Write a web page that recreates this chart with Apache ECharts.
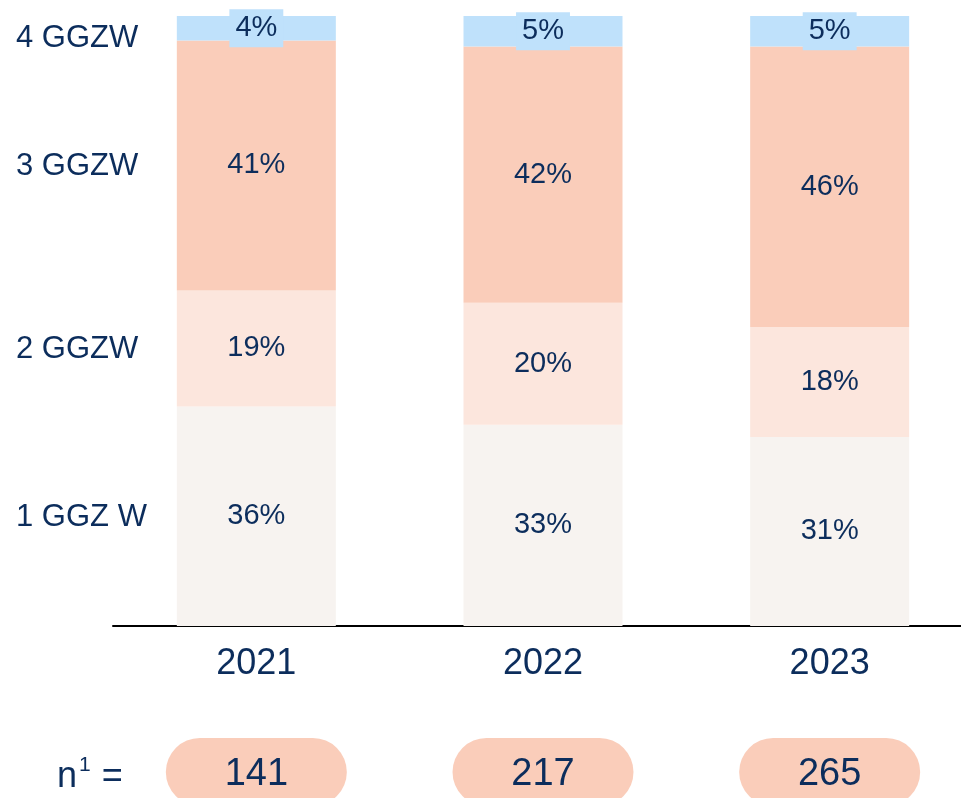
<!DOCTYPE html>
<html>
<head>
<meta charset="utf-8">
<script src="https://cdn.jsdelivr.net/npm/echarts@6/dist/echarts.min.js"></script>
<style>
  html, body { margin: 0; padding: 0; background: #fff; overflow: hidden; }
  #chart { width: 961px; height: 798px; }
</style>
</head>
<body>
<div id="chart"></div>
<script>
const years = ["2021", "2022", "2023"]
const sampleSizes = ["141", "217", "265"]
const levels = ["1 GGZ W", "2 GGZW", "3 GGZW", "4 GGZW"]
const share1 = [36, 33, 31]
const share2 = [19, 20, 18]
const share3 = [41, 42, 46]
const share4 = [4, 5, 5]

const navy = "#0c2d5c"
const font = "Liberation Sans, Arial, sans-serif"
const colors = ["#f7f3f0", "#fce6dd", "#facdba", "#bfe1fb"]
const values = [share1, share2, share3, share4]

const chart = echarts.init(document.getElementById("chart"))

const series = values.map((vals, i) => ({
  name: levels[i],
  type: "bar",
  stack: "total",
  barWidth: 159,
  data: vals,
  itemStyle: { color: colors[i] },
  label: {
    show: true,
    position: "inside",
    formatter: "{c}%",
    color: navy,
    fontFamily: font,
    fontSize: 29,
    // top segment is too thin, so its label gets a box in the same blue
    ...(i === 3 ? { backgroundColor: colors[3], padding: [4, 6], lineHeight: 30 } : {})
  },
  z: i === 3 ? 3 : 2
}))

chart.setOption({
  backgroundColor: "#fff",
  animation: false,
  // v6 shrinks the grid to fit labels unless told not to
  grid: { left: 113, right: -12, top: 16, bottom: 172, outerBoundsMode: "none", containLabel: false },
  xAxis: [
    {
      type: "category",
      data: years,
      axisLine: { lineStyle: { color: "#000", width: 2 } },
      axisTick: { show: false },
      axisLabel: { color: navy, fontFamily: font, fontSize: 36, margin: 20 }
    },
    {
      type: "category",
      data: sampleSizes,
      position: "bottom",
      offset: 100,
      axisLine: { show: false },
      axisTick: { show: false },
      axisLabel: {
        color: navy,
        fontFamily: font,
        fontSize: 38,
        margin: 12,
        backgroundColor: "#facdba",
        borderRadius: 34,
        width: 181,
        height: 62,
        lineHeight: 62,
        padding: [6, 0, 0, 0],
        align: "center"
      }
    }
  ],
  yAxis: { type: "value", min: 0, max: 100, show: false },
  series: series
})

// left-side level names, placed at the middle of each 2021 segment
let acc = 0
const graphics = values.map((vals, i) => {
  const mid = acc + vals[0] / 2
  acc += vals[0]
  const y = chart.convertToPixel({ gridIndex: 0 }, [years[0], mid])[1]
  return {
    type: "text",
    left: 16,
    top: y - 14 + (i === 3 ? 9 : 0),
    style: { text: levels[i], fill: navy, font: "31px " + font }
  }
})
graphics.push({
  type: "text",
  left: 57,
  top: 755,
  style: {
    text: "{a|n}{s|1}{a| =}",
    rich: {
      a: { fill: navy, fontFamily: font, fontSize: 36, lineHeight: 40 },
      s: { fill: navy, fontFamily: font, fontSize: 21, lineHeight: 40, padding: [0, 1, 24, 2] }
    }
  }
})
chart.setOption({ graphic: graphics })
</script>
</body>
</html>
